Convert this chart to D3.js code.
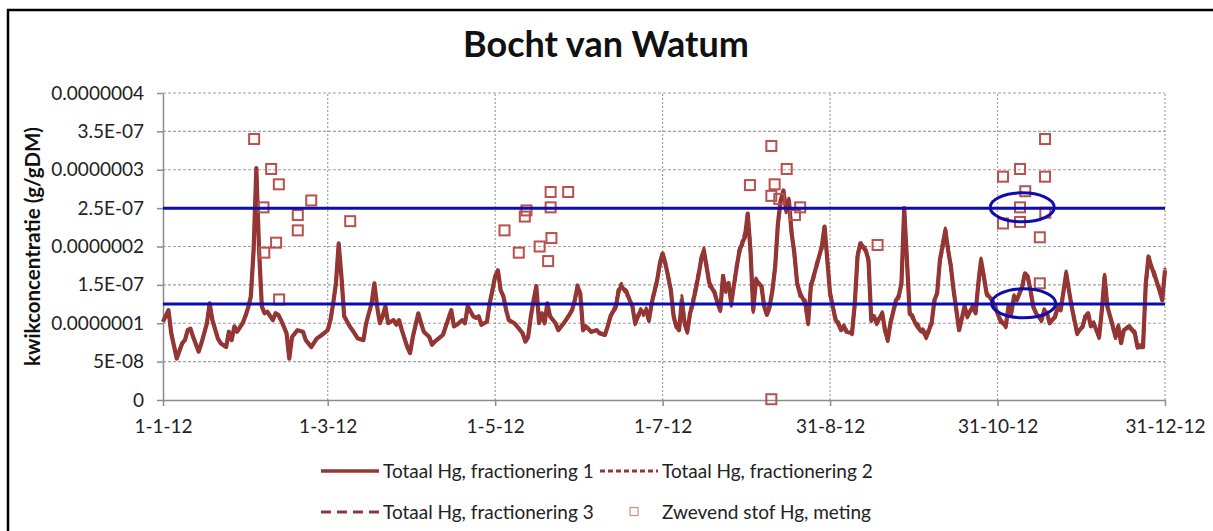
<!DOCTYPE html>
<html><head><meta charset="utf-8">
<script src="https://cdn.jsdelivr.net/npm/d3@7"></script>
<style>body{margin:0;background:#fff;overflow:hidden}svg{display:block}</style>
</head><body>
<svg id="c" width="1213" height="531"></svg>
<script>
// ---------- DATA (values in units of 1e-7 g/gDM, day = days since 1-1-2012) ----------
const UNIT = 1e-7;
const title = "Bocht van Watum";
const yTitle = "kwikconcentratie (g/gDM)";
const yTicks = [0, 0.5, 1, 1.5, 2, 2.5, 3, 3.5, 4];
const yTickLabels = ["0", "5E-08", "0.0000001", "1.5E-07", "0.0000002", "2.5E-07", "0.0000003", "3.5E-07", "0.0000004"];
const xTickDays = [0, 60, 121, 182, 243, 304, 365];
const xTickLabels = ["1-1-12", "1-3-12", "1-5-12", "1-7-12", "31-8-12", "31-10-12", "31-12-12"];
const seriesNames = ["Totaal Hg, fractionering 1", "Totaal Hg, fractionering 2", "Totaal Hg, fractionering 3", "Zwevend stof Hg, meting"];

const frac1 = [[0,1.02],[2,1.17],[3,0.87],[5,0.54],[7,0.74],[8,0.78],[9,0.91],[10,0.93],[11,0.82],[13,0.63],[14,0.74],[16,1.0],[17,1.26],[18,1.04],[20,0.80],[21,0.74],[23,0.69],[24,0.89],[25,0.78],[26,0.96],[27,0.89],[29,1.0],[30,1.09],[31,1.2],[32,1.35],[33,1.95],[34,3.02],[35,1.95],[36,1.22],[37,1.13],[38,1.15],[40,1.04],[41,1.13],[42,1.11],[43,1.04],[45,0.87],[46,0.54],[47,0.82],[49,0.91],[51,0.89],[52,0.78],[54,0.69],[56,0.80],[58,0.85],[60,0.91],[61,1.04],[62,1.26],[63,1.52],[64,2.04],[65,1.61],[66,1.09],[68,0.96],[69,0.91],[71,0.80],[73,0.78],[74,1.0],[76,1.26],[77,1.52],[78,1.22],[79,1.0],[80,1.09],[81,1.22],[82,1.0],[84,1.04],[85,0.98],[86,1.04],[87,0.91],[89,0.69],[90,0.61],[91,0.82],[93,1.13],
[94,1.0],[95,0.89],[97,0.82],[98,0.72],[99,0.76],[101,0.82],[102,0.85],[103,0.96],[105,1.17],[106,0.96],[107,0.98],[109,1.04],[110,1.0],[111,1.22],[113,1.09],[114,1.07],[115,1.09],[116,0.98],[118,1.02],[119,1.26],[120,1.43],[121,1.61],[122,1.69],[123,1.43],[124,1.35],[125,1.17],[126,1.04],[128,1.0],[129,0.96],[131,0.87],[132,0.76],[133,0.82],[134,1.09],[135,1.30],[136,1.48],[137,1.0],[138,1.13],[139,1.0],[140,1.26],[141,1.09],[143,1.0],[144,0.91],[146,1.0],[148,1.11],[149,1.17],[150,1.30],[151,1.48],[152,1.39],[153,0.91],[154,0.96],[156,0.89],[158,0.91],[159,0.87],[161,0.85],[162,0.96],[163,1.09],[165,1.22],[166,1.43],[167,1.48],[169,1.39],[170,1.30],[171,1.22],[172,1.0],[174,1.17],[175,1.13],[176,1.17],[177,1.04],[178,1.26],[180,1.56],[181,1.78],[182,1.91],[183,1.78],[184,1.61],[185,1.43],
[186,1.09],[187,0.96],[188,0.91],[189,1.30],[190,1.0],[191,0.89],[192,1.13],[193,1.26],[195,1.61],[196,1.82],[197,1.95],[198,1.74],[199,1.52],[201,1.39],[202,1.26],[203,1.17],[204,1.61],[205,1.43],[206,1.52],[207,1.26],[209,1.74],[210,1.95],[211,2.04],[212,2.13],[213,2.43],[214,1.95],[215,1.17],[216,1.56],[218,1.48],[219,1.22],[220,1.11],[221,1.22],[222,1.43],[223,1.74],[224,2.30],[225,2.60],[226,2.73],[227,2.47],[228,2.60],[229,2.17],[230,1.91],[231,1.52],[232,1.39],[234,1.26],[235,1.0],[236,1.48],[237,1.61],[238,1.74],[240,2.0],[241,2.26],[242,1.82],[243,1.39],[245,1.04],[246,1.0],[247,0.91],[248,0.96],[249,0.89],[251,0.87],[252,1.26],[253,1.87],[254,2.04],[256,1.95],[257,1.82],[258,1.04],[259,1.09],[260,1.0],[262,1.13],[263,0.91],[264,0.78],[265,1.0],[267,1.30],[268,1.35],[269,1.52],[270,2.50],[271,1.82],[272,1.13],[273,1.09],[274,1.0],[276,0.91],
[277,0.89],[278,0.82],[280,1.0],[281,1.30],[282,1.39],[283,1.82],[285,2.21],[286,1.95],[287,1.74],[288,1.43],[289,1.17],[290,0.91],[292,1.22],[293,1.09],[295,1.22],[296,1.13],[297,1.52],[298,1.82],[299,1.61],[300,1.39],[302,1.30],[303,1.22],[304,1.13],[305,1.04],[307,0.96],[308,1.22],[309,1.13],[310,1.35],[311,1.30],[313,1.48],[314,1.65],[315,1.61],[316,1.43],[317,1.22],[318,1.13],[320,1.04],[321,1.17],[322,1.13],[323,1.0],[325,1.09],[326,1.22],[327,1.17],[329,1.65],[330,1.43],[331,1.22],[332,1.04],[333,0.87],[335,0.96],[336,1.09],[337,1.13],[338,0.96],[339,1.0],[341,0.82],[342,1.17],[343,1.61],[344,1.22],[346,0.96],[347,0.82],[348,0.96],[349,0.74],[350,0.91],[352,0.96],[353,0.91],[354,0.87],[355,0.69],[357,0.69],[358,1.52],[359,1.87],[360,1.74],[361,1.65],[363,1.43],[364,1.30],[365,1.69]];

const frac2 = [[0,1.02],[2,1.16],[3,0.88],[5,0.55],[7,0.74],[8,0.78],[9,0.90],[10,0.93],[11,0.82],[13,0.64],[14,0.74],[16,1.0],[17,1.25],[18,1.04],[20,0.80],[21,0.75],[23,0.69],[24,0.88],[25,0.78],[26,0.95],[27,0.89],[29,1.0],[30,1.09],[31,1.2],[32,1.34],[33,1.93],[34,2.98],[35,1.93],[36,1.22],[37,1.13],[38,1.15],[40,1.04],[41,1.12],[42,1.11],[43,1.04],[45,0.87],[46,0.55],[47,0.82],[49,0.91],[51,0.89],[52,0.78],[54,0.70],[56,0.80],[58,0.85],[60,0.91],[61,1.04],[62,1.25],[63,1.51],[64,2.02],[65,1.60],[66,1.09],[68,0.96],[69,0.91],[71,0.80],[73,0.78],[74,1.0],[76,1.25],[77,1.50],[78,1.22],[79,1.0],[80,1.09],[81,1.21],[82,1.0],[84,1.04],[85,0.98],[86,1.04],[87,0.91],[89,0.70],[90,0.62],[91,0.82],[93,1.12],
[94,1.0],[95,0.89],[97,0.82],[98,0.73],[99,0.76],[101,0.82],[102,0.85],[103,0.96],[105,1.16],[106,0.96],[107,0.98],[109,1.04],[110,1.0],[111,1.21],[113,1.09],[114,1.07],[115,1.09],[116,0.98],[118,1.02],[119,1.25],[120,1.42],[121,1.62],[122,1.67],[123,1.44],[124,1.35],[125,1.17],[126,1.04],[128,1.0],[129,0.96],[131,0.87],[132,0.77],[133,0.82],[134,1.09],[135,1.29],[136,1.46],[137,1.02],[138,1.13],[139,1.0],[140,1.25],[141,1.09],[143,1.0],[144,0.92],[146,1.0],[148,1.12],[149,1.18],[150,1.32],[151,1.46],[152,1.40],[153,0.93],[154,0.96],[156,0.89],[158,0.91],[159,0.88],[161,0.86],[162,0.96],[163,1.10],[165,1.25],[166,1.47],[167,1.52],[169,1.36],[170,1.33],[171,1.20],[172,1.03],[174,1.19],[175,1.10],[176,1.20],[177,1.06],[178,1.28],[180,1.58],[181,1.74],[182,1.88],[183,1.80],[184,1.58],[185,1.40],
[186,1.12],[187,0.98],[188,0.93],[189,1.36],[190,1.03],[191,0.92],[192,1.16],[193,1.30],[195,1.66],[196,1.78],[197,1.90],[198,1.78],[199,1.48],[201,1.42],[202,1.23],[203,1.20],[204,1.66],[205,1.40],[206,1.56],[207,1.22],[209,1.78],[210,1.90],[211,2.08],[212,2.18],[213,2.36],[214,1.90],[215,1.22],[216,1.50],[218,1.52],[219,1.18],[220,1.15],[221,1.26],[222,1.40],[223,1.78],[224,2.24],[225,2.64],[226,2.66],[227,2.52],[228,2.54],[229,2.22],[230,1.86],[231,1.56],[232,1.35],[234,1.30],[235,1.04],[236,1.54],[237,1.57],[238,1.78],[240,1.96],[241,2.20],[242,1.86],[243,1.35],[245,1.08],[246,0.97],[247,0.94],[248,0.93],[249,0.92],[251,0.90],[252,1.22],[253,1.92],[254,2.00],[256,1.99],[257,1.78],[258,1.08],[259,1.05],[260,1.04],[262,1.10],[263,0.94],[264,0.80],[265,1.04],[267,1.26],[268,1.39],[269,1.48],[270,2.44],[271,1.86],[272,1.16],[273,1.06],[274,1.03],[276,0.94],
[277,0.92],[278,0.85],[280,1.03],[281,1.26],[282,1.43],[283,1.78],[285,2.16],[286,1.99],[287,1.70],[288,1.47],[289,1.14],[290,0.94],[292,1.19],[293,1.12],[295,1.19],[296,1.16],[297,1.48],[298,1.77],[299,1.64],[300,1.36],[302,1.33],[303,1.19],[304,1.16],[305,1.01],[307,0.99],[308,1.19],[309,1.16],[310,1.32],[311,1.33],[313,1.45],[314,1.61],[315,1.64],[316,1.40],[317,1.25],[318,1.10],[320,1.07],[321,1.14],[322,1.16],[323,0.98],[325,1.12],[326,1.19],[327,1.20],[329,1.61],[330,1.46],[331,1.19],[332,1.07],[333,0.90],[335,0.94],[336,1.12],[337,1.10],[338,0.99],[339,0.98],[341,0.85],[342,1.14],[343,1.57],[344,1.25],[346,0.93],[347,0.85],[348,0.93],[349,0.77],[350,0.88],[352,0.99],[353,0.88],[354,0.90],[355,0.72],[357,0.72],[358,1.48],[359,1.82],[360,1.77],[361,1.61],[363,1.46],[364,1.33],[365,1.66]];

const frac3 = [[0,1.02],[2,1.17],[3,0.87],[5,0.54],[7,0.75],[8,0.78],[9,0.91],[10,0.92],[11,0.82],[13,0.63],[14,0.75],[16,1.0],[17,1.26],[18,1.04],[20,0.81],[21,0.74],[23,0.69],[24,0.89],[25,0.78],[26,0.96],[27,0.89],[29,1.0],[30,1.08],[31,1.2],[32,1.35],[33,1.96],[34,3.0],[35,1.96],[36,1.22],[37,1.14],[38,1.15],[40,1.04],[41,1.13],[42,1.10],[43,1.04],[45,0.87],[46,0.54],[47,0.82],[49,0.91],[51,0.89],[52,0.78],[54,0.69],[56,0.80],[58,0.86],[60,0.91],[61,1.04],[62,1.26],[63,1.53],[64,2.03],[65,1.62],[66,1.09],[68,0.96],[69,0.91],[71,0.80],[73,0.78],[74,1.0],[76,1.26],[77,1.51],[78,1.22],[79,1.0],[80,1.09],[81,1.22],[82,1.0],[84,1.04],[85,0.98],[86,1.04],[87,0.91],[89,0.69],[90,0.61],[91,0.82],[93,1.13],
[94,1.0],[95,0.89],[97,0.82],[98,0.72],[99,0.76],[101,0.82],[102,0.85],[103,0.96],[105,1.17],[106,0.96],[107,0.98],[109,1.04],[110,1.0],[111,1.22],[113,1.09],[114,1.07],[115,1.09],[116,0.98],[118,1.02],[119,1.26],[120,1.44],[121,1.60],[122,1.70],[123,1.42],[124,1.36],[125,1.17],[126,1.04],[128,1.0],[129,0.96],[131,0.87],[132,0.76],[133,0.83],[134,1.09],[135,1.31],[136,1.49],[137,1.0],[138,1.13],[139,1.0],[140,1.26],[141,1.09],[143,1.0],[144,0.91],[146,1.01],[148,1.10],[149,1.16],[150,1.29],[151,1.50],[152,1.37],[153,0.90],[154,0.97],[156,0.88],[158,0.92],[159,0.86],[161,0.84],[162,0.97],[163,1.08],[165,1.20],[166,1.40],[167,1.50],[169,1.42],[170,1.28],[171,1.24],[172,0.98],[174,1.15],[175,1.15],[176,1.15],[177,1.02],[178,1.24],[180,1.54],[181,1.80],[182,1.93],[183,1.76],[184,1.63],[185,1.45],
[186,1.07],[187,0.94],[188,0.90],[189,1.27],[190,0.98],[191,0.87],[192,1.11],[193,1.23],[195,1.58],[196,1.86],[197,1.98],[198,1.71],[199,1.55],[201,1.37],[202,1.29],[203,1.15],[204,1.57],[205,1.46],[206,1.49],[207,1.29],[209,1.71],[210,1.98],[211,2.01],[212,2.10],[213,2.46],[214,1.98],[215,1.14],[216,1.59],[218,1.45],[219,1.25],[220,1.09],[221,1.19],[222,1.46],[223,1.71],[224,2.33],[225,2.57],[226,2.76],[227,2.44],[228,2.63],[229,2.14],[230,1.94],[231,1.49],[232,1.42],[234,1.23],[235,0.98],[236,1.45],[237,1.64],[238,1.71],[240,2.03],[241,2.29],[242,1.79],[243,1.42],[245,1.02],[246,1.02],[247,0.89],[248,0.98],[249,0.87],[251,0.85],[252,1.29],[253,1.84],[254,2.07],[256,1.92],[257,1.85],[258,1.02],[259,1.12],[260,0.98],[262,1.15],[263,0.89],[264,0.76],[265,0.98],[267,1.33],[268,1.32],[269,1.55],[270,2.47],[271,1.79],[272,1.11],[273,1.11],[274,0.98],[276,0.89],
[277,0.87],[278,0.80],[280,0.98],[281,1.33],[282,1.36],[283,1.85],[285,2.24],[286,1.92],[287,1.77],[288,1.40],[289,1.19],[290,0.89],[292,1.24],[293,1.07],[295,1.24],[296,1.11],[297,1.55],[298,1.85],[299,1.58],[300,1.41],[302,1.28],[303,1.24],[304,1.11],[305,1.06],[307,0.94],[308,1.24],[309,1.11],[310,1.37],[311,1.28],[313,1.50],[314,1.68],[315,1.58],[316,1.45],[317,1.20],[318,1.15],[320,1.02],[321,1.19],[322,1.11],[323,1.02],[325,1.07],[326,1.24],[327,1.15],[329,1.68],[330,1.41],[331,1.24],[332,1.02],[333,0.85],[335,0.98],[336,1.07],[337,1.15],[338,0.94],[339,1.02],[341,0.80],[342,1.19],[343,1.64],[344,1.20],[346,0.98],[347,0.80],[348,0.98],[349,0.72],[350,0.93],[352,0.94],[353,0.93],[354,0.85],[355,0.67],[357,0.67],[358,1.55],[359,1.90],[360,1.71],[361,1.68],[363,1.41],[364,1.28],[365,1.72]];

const meting = [[33.2,3.40],[39.4,3.01],[42.2,2.81],[36.6,2.51],[54,2.60],[49.1,2.41],[49.1,2.21],[68.2,2.33],[41.2,2.05],[36.9,1.92],[42.3,1.31],
[124.4,2.21],[129.6,1.92],[131.8,2.39],[132.4,2.47],[137.2,2.00],[141.2,2.71],[141.2,2.51],[141.5,2.11],[140.3,1.81],[147.6,2.71],
[213.8,2.80],[221.6,3.31],[222.8,2.81],[221.6,2.66],[227.2,3.01],[224.5,2.62],[232.1,2.51],[230.2,2.41],[221.6,0.01],[260.3,2.02],
[306,2.91],[312.2,3.01],[321.3,3.40],[321.3,2.91],[314.1,2.72],[312.2,2.51],[321.4,2.44],[306,2.30],[312.2,2.32],[319.4,2.12],[319.4,1.52]];

const refLevels = [2.5, 1.25];
const highlights = [[313, 2.51], [313.5, 1.26]];   // annotation ellipses (day, value)

// ---------- DRAWING ----------
const FONT = 'Lato, "Open Sans", sans-serif';
const LINE = "#943634", MARK = "#b8504c", BLUE = "#0c0cb0", GRID = "#a0a0a0", AXIS = "#8c8c8c";
const svg = d3.select("#c");
const toDate = d => new Date(Date.UTC(2012, 0, 1) + d * 864e5);

const x = d3.scaleUtc().domain([toDate(0), toDate(365)]).range([163, 1165]);
const y = d3.scaleLinear().domain([0, 4 * UNIT]).range([400, 93]);

// outer frame (extends beyond the right and bottom edges)
svg.append("path").attr("d", "M1300,10H8V700")
  .attr("fill", "none").attr("stroke", "#000").attr("stroke-width", 2.5);

// title
svg.append("text").attr("x", 606).attr("y", 57).attr("text-anchor", "middle")
  .attr("font-family", FONT).attr("font-weight", "bold").attr("font-size", 36).attr("fill", "#111")
  .text(title);

// grid
const grid = svg.append("g");
grid.selectAll("line.h").data(yTicks.slice(1)).join("line").attr("class", "h")
  .attr("x1", x.range()[0]).attr("x2", x.range()[1])
  .attr("y1", d => y(d * UNIT)).attr("y2", d => y(d * UNIT))
  .attr("stroke", GRID).attr("stroke-width", 1.2).attr("stroke-dasharray", "3,2");
grid.selectAll("line.v").data(xTickDays.slice(1)).join("line").attr("class", "v")
  .attr("x1", d => x(toDate(d))).attr("x2", d => x(toDate(d)))
  .attr("y1", y.range()[0]).attr("y2", y.range()[1])
  .attr("stroke", GRID).attr("stroke-width", 1.2).attr("stroke-dasharray", "2,2");

// axes
const yAxis = svg.append("g").attr("transform", `translate(${x.range()[0]},0)`)
  .call(d3.axisLeft(y).tickValues(yTicks.map(v => v * UNIT)).tickFormat((d, i) => yTickLabels[i])
    .tickSize(6).tickSizeOuter(0).tickPadding(13));
const xAxis = svg.append("g").attr("transform", `translate(0,${y.range()[0]})`)
  .call(d3.axisBottom(x).tickValues(xTickDays.map(toDate)).tickFormat((d, i) => xTickLabels[i])
    .tickSize(6).tickSizeOuter(0).tickPadding(14));
[yAxis, xAxis].forEach(g => {
  g.select(".domain").attr("stroke", AXIS).attr("stroke-width", 1.5);
  g.selectAll(".tick line").attr("stroke", AXIS).attr("stroke-width", 1.5);
  g.selectAll("text").attr("font-family", FONT).attr("font-size", 19).attr("fill", "#222");
});

// y axis title
svg.append("text").attr("transform", `translate(40,${(y.range()[0] + y.range()[1]) / 2}) rotate(-90)`)
  .attr("text-anchor", "middle").attr("font-family", FONT).attr("font-weight", "bold")
  .attr("font-size", 20.5).attr("fill", "#111").text(yTitle);

// lines
const line = d3.line().x(d => x(toDate(d[0]))).y(d => y(d[1] * UNIT));
const lineStyles = [
  { data: frac1, w: 4.2, dash: null },
  { data: frac2, w: 3, dash: "5,3" },
  { data: frac3, w: 3, dash: "10,6" }
];
lineStyles.forEach(s => {
  svg.append("path").datum(s.data).attr("d", line).attr("fill", "none")
    .attr("stroke", LINE).attr("stroke-width", s.w).attr("stroke-linejoin", "round")
    .attr("stroke-dasharray", s.dash);
});

// measurement squares
svg.append("g").selectAll("rect").data(meting).join("rect")
  .attr("x", d => x(toDate(d[0])) - 5).attr("y", d => y(d[1] * UNIT) - 5)
  .attr("width", 10).attr("height", 10).attr("fill", "none")
  .attr("stroke", MARK).attr("stroke-width", 2);

// blue reference lines and highlight ellipses
svg.append("g").selectAll("line").data(refLevels).join("line")
  .attr("x1", x.range()[0]).attr("x2", x.range()[1])
  .attr("y1", d => y(d * UNIT)).attr("y2", d => y(d * UNIT))
  .attr("stroke", BLUE).attr("stroke-width", 3);
svg.append("g").selectAll("ellipse").data(highlights).join("ellipse")
  .attr("cx", d => x(toDate(d[0]))).attr("cy", d => y(d[1] * UNIT))
  .attr("rx", 32).attr("ry", 14.5).attr("fill", "none")
  .attr("stroke", BLUE).attr("stroke-width", 3);

// legend
const lg = svg.append("g").attr("font-family", FONT).attr("font-size", 19).attr("fill", "#222");
const legendItems = [
  { name: seriesNames[0], type: "line", dash: null, w: 3.5, x: 321, y: 471 },
  { name: seriesNames[1], type: "line", dash: "5,3", w: 3, x: 600, y: 471 },
  { name: seriesNames[2], type: "line", dash: "10,6", w: 3, x: 321, y: 512 },
  { name: seriesNames[3], type: "mark", x: 600, y: 512 }
];
legendItems.forEach(it => {
  if (it.type === "line") {
    lg.append("line").attr("x1", it.x).attr("x2", it.x + 58).attr("y1", it.y).attr("y2", it.y)
      .attr("stroke", LINE).attr("stroke-width", it.w).attr("stroke-dasharray", it.dash);
  } else {
    lg.append("rect").attr("x", it.x + 30).attr("y", it.y - 4.5).attr("width", 8).attr("height", 8)
      .attr("fill", "none").attr("stroke", "#d08a88").attr("stroke-width", 1.2);
  }
  lg.append("text").attr("x", it.x + 62).attr("y", it.y).attr("dy", "0.35em").text(it.name);
});
</script>
</body></html>
